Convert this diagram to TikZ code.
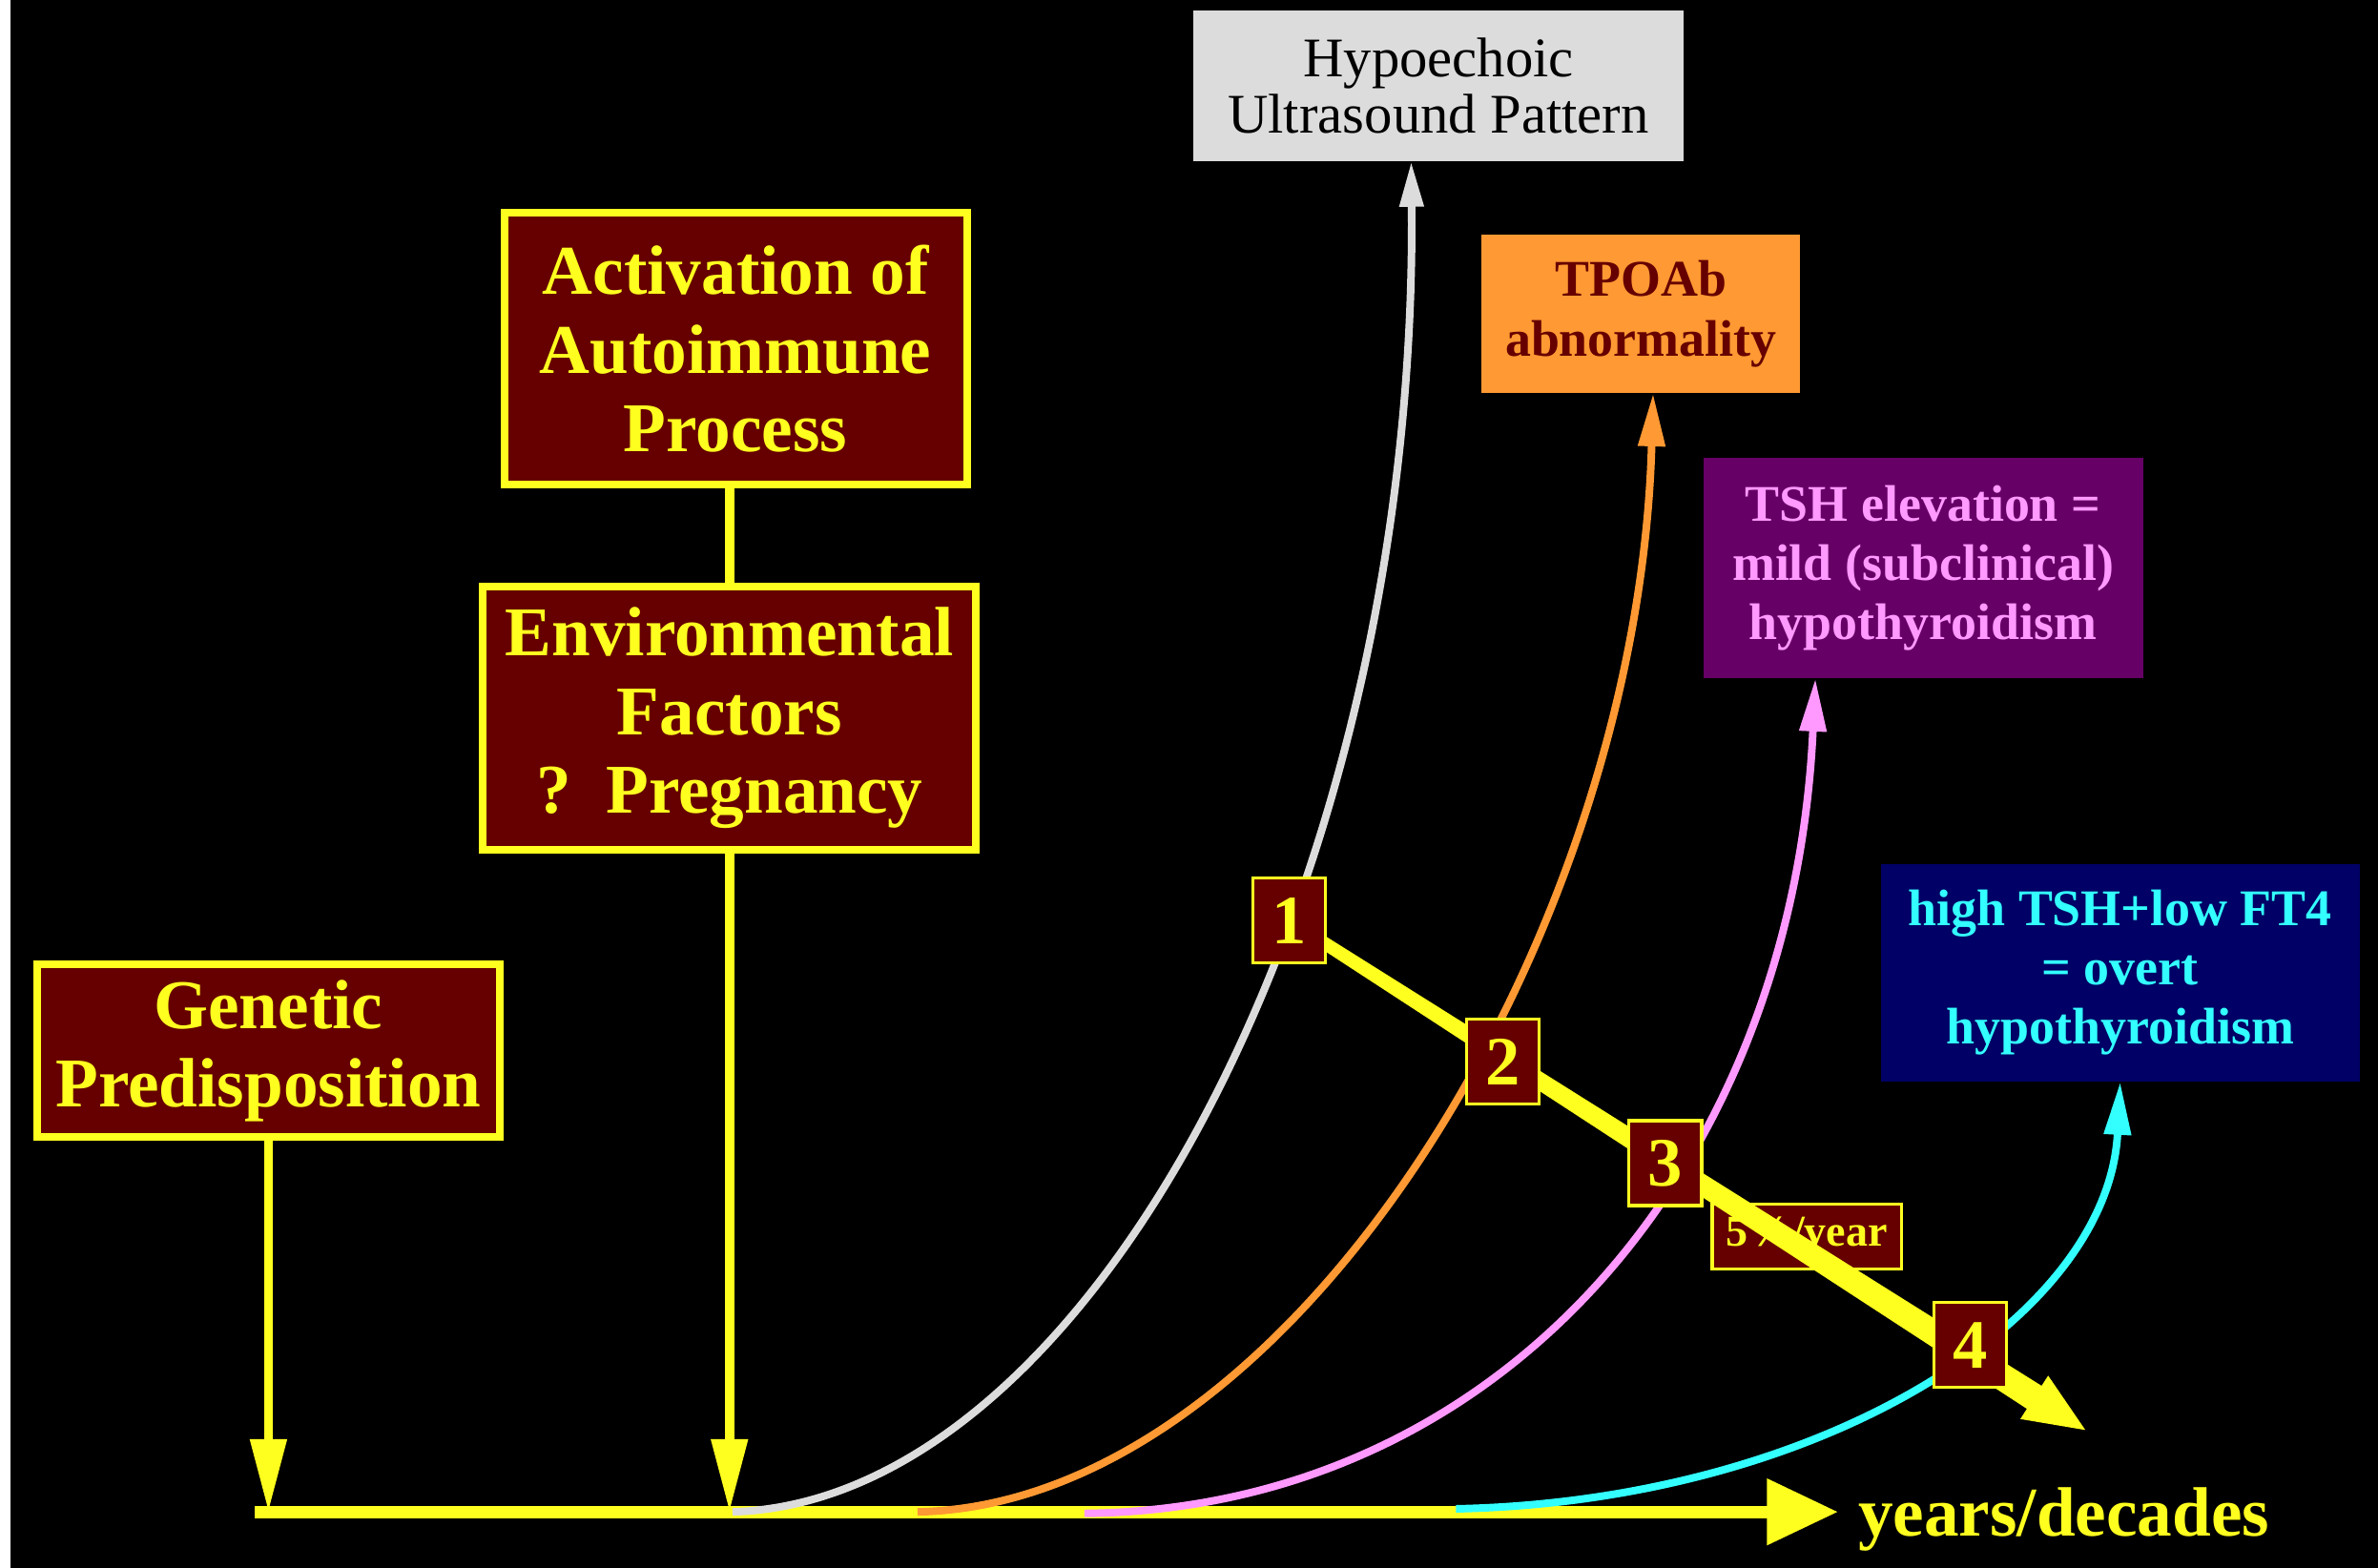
\documentclass[tikz,border=0pt]{standalone}
\usepackage{fontspec}
\setmainfont{Liberation Serif}
\usetikzlibrary{arrows.meta,calc}
\pgfdeclarelayer{bg}
\pgfdeclarelayer{lines}
\pgfsetlayers{bg,lines,main}
\definecolor{ylw}{HTML}{FFFF1F}
\definecolor{dred}{HTML}{660000}
\definecolor{lgray}{HTML}{DCDCDC}
\definecolor{orng}{HTML}{FF9933}
\definecolor{purp}{HTML}{660066}
\definecolor{pnk}{HTML}{FF99FF}
\definecolor{navyb}{HTML}{000066}
\definecolor{cyn}{HTML}{33FFFF}
\begin{document}
\begin{tikzpicture}[x=0.02cm,y=-0.02cm,
  bigbox/.style={draw=ylw, line width=0.1cm, fill=dred, text=ylw, align=center, inner sep=0pt,
    font=\fontsize{26.2}{29.5}\selectfont\bfseries},
  numbox/.style={draw=ylw, line width=0.04cm, fill=dred, text=ylw, inner sep=0pt,
    minimum width=0.96cm, minimum height=1.12cm, font=\fontsize{26}{26}\selectfont\bfseries},
  infobox/.style={inner sep=0pt, align=center, font=\fontsize{19.3}{22.2}\selectfont\bfseries},
  yarrow/.style={draw=ylw, line width=0.12cm, -{Triangle[length=0.96cm,width=0.46cm]}},
  curvearrow/.style={line width=0.1cm, -{Triangle[length=0.7cm,width=0.34cm]}}]
\useasboundingbox (0,0) rectangle (1568,1034);
\begin{pgfonlayer}{bg}
  \fill[white] (0,0) rectangle (1568,1034);
  \fill[black] (7,0) rectangle (1568,1034);
\end{pgfonlayer}

% main boxes
\node[bigbox, minimum width=6.1cm, minimum height=2.28cm] (gen) at (177,693) {Genetic\\Predisposition};
\node[bigbox, minimum width=6.1cm, minimum height=3.58cm] (act) at (485,230) {Activation of\\Autoimmune\\Process};
\node[bigbox, minimum width=6.5cm, minimum height=3.48cm] (env) at (481,473.5) {Environmental\\Factors\\? \,Pregnancy};

% outcome boxes
\node[inner sep=0pt, align=center, fill=lgray, text=black, minimum width=6.46cm, minimum height=1.98cm,
  font=\fontsize{21}{21}\selectfont] (hyp) at (948.5,56.5) {Hypoechoic\\Ultrasound Pattern};
\node[infobox, fill=orng, text=dred, minimum width=4.2cm, minimum height=2.08cm,
  font=\fontsize{19.3}{22.7}\selectfont\bfseries] (tpo) at (1082,207) {TPOAb\\abnormality};
\node[infobox, fill=purp, text=pnk, minimum width=5.8cm, minimum height=2.9cm] (tsh) at (1268,374.5)
  {TSH elevation =\\mild (subclinical)\\hypothyroidism};
\node[infobox, fill=navyb, text=cyn, minimum width=6.32cm, minimum height=2.86cm] (ovt) at (1398,641.5)
  {high TSH+low FT4\\= overt\\hypothyroidism};

% numbered steps
\node[numbox] (n1) at (850,607) {1};
\node[numbox] (n2) at (991,700) {2};
\node[numbox] (n3) at (1098,767) {3};
\node[numbox] (n4) at (1299,887) {4};

\node[anchor=base west, text=ylw, inner sep=0pt, font=\fontsize{26.2}{29.5}\selectfont\bfseries] (yrs) at (1225,1013) {years/decades};

\begin{pgfonlayer}{lines}
  \coordinate (ax0) at (168,997);
  \coordinate (ax1) at (1212,997);
  \draw[ylw, line width=0.16cm, -{Triangle[length=0.94cm,width=0.84cm]}] (ax0) -- (ax1);
  \draw[yarrow] (gen.south) -- (gen.south |- ax0);
  \draw[draw=ylw, line width=0.12cm] (env.north |- act.south) -- (env.north);
  \draw[yarrow] (env.south) -- (env.south |- ax0);

  \coordinate (g0) at (483,997);
  \coordinate (o0) at (605,997);
  \coordinate (p0) at (715,998);
  \coordinate (c0) at (960,995);
  \draw[curvearrow, lgray, -{Triangle[length=0.6cm,width=0.3cm]}] (g0) .. controls (720,990) and (935,580) .. ($(hyp.south)+(-18,0)$);
  \draw[curvearrow, orng] (o0) .. controls (850,992) and (1080,620) .. ($(tpo.south)+(8,0)$);
  \draw[curvearrow, pnk] (p0) .. controls (990,995) and (1182,770) .. ($(tsh.south)+(-71,0)$);
  \draw[curvearrow, cyn] (c0) .. controls (1200,990) and (1390,870) .. (ovt.south);

  \node[draw=ylw, line width=0.04cm, fill=dred, text=ylw, inner sep=0pt, minimum width=2.5cm, minimum height=0.86cm,
    font=\fontsize{16.5}{16.5}\selectfont\bfseries] (rate) at (1191.5,815.5) {5\%/year};

  \coordinate (dtip) at (1375,943);
  \coordinate (hb) at ($(dtip)!0.8cm!(n1)$);
  \fill[ylw] ($(n1)!0.08cm!90:(dtip)$) -- ($(hb)!0.18cm!90:(dtip)$) -- ($(hb)!0.34cm!90:(dtip)$)
    -- (dtip) -- ($(hb)!0.34cm!-90:(dtip)$) -- ($(hb)!0.18cm!-90:(dtip)$) -- ($(n1)!0.08cm!-90:(dtip)$) -- cycle;
\end{pgfonlayer}
\end{tikzpicture}
\end{document}
